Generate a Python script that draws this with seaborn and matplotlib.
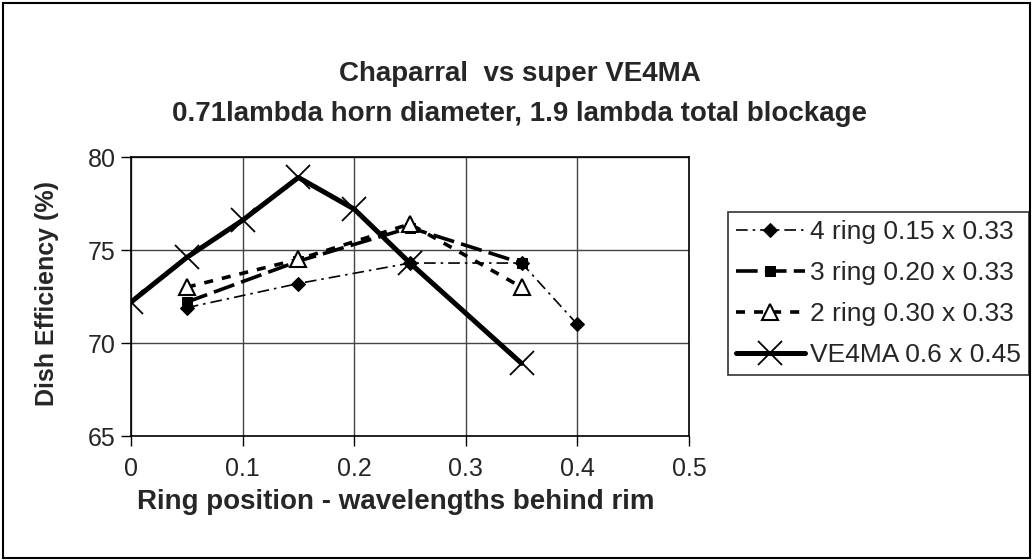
import matplotlib
matplotlib.use('Agg')

import matplotlib.pyplot as plt
import seaborn as sns
from matplotlib.patches import Rectangle

# DATA
ring4_x = [0.05, 0.15, 0.25, 0.35, 0.40]
ring4_y = [71.9, 73.2, 74.3, 74.3, 71.0]

ring3_x = [0.05, 0.15, 0.25, 0.35]
ring3_y = [72.2, 74.4, 76.2, 74.3]

ring2_x = [0.05, 0.15, 0.25, 0.35]
ring2_y = [73.0, 74.5, 76.4, 73.0]

ve4ma_x = [0.0, 0.05, 0.10, 0.15, 0.20, 0.25, 0.35]
ve4ma_y = [72.2, 74.6, 76.6, 78.9, 77.2, 74.3, 68.9]

labels = ["4 ring 0.15 x 0.33", "3 ring 0.20 x 0.33",
          "2 ring 0.30 x 0.33", "VE4MA 0.6 x 0.45"]
x_ticks = [0, 0.1, 0.2, 0.3, 0.4, 0.5]
x_tick_labels = ["0", "0.1", "0.2", "0.3", "0.4", "0.5"]
y_ticks = [65, 70, 75, 80]

sns.set_style("white")
plt.rcParams["font.family"] = ["Liberation Sans", "DejaVu Sans"]

fig = plt.figure(figsize=(10.33, 5.6), dpi=100)
fig.patches.append(Rectangle((0.003, 0.004), 0.994, 0.991, transform=fig.transFigure,
                             fill=False, edgecolor="black", linewidth=1.5))
ax = fig.add_axes([0.1268, 0.2214, 0.5402, 0.4982])

sns.lineplot(x=ring4_x, y=ring4_y, ax=ax, color="black", linewidth=1.2,
             linestyle=(0, (7, 3, 1.5, 3)), marker="D", markersize=7,
             markeredgecolor="black", label=labels[0])
sns.lineplot(x=ring3_x, y=ring3_y, ax=ax, color="black", linewidth=2.6,
             linestyle=(0, (6, 2)), marker="s", markersize=7.5,
             markeredgecolor="black", label=labels[1])
sns.lineplot(x=ring2_x, y=ring2_y, ax=ax, color="black", linewidth=2.6,
             linestyle=(0, (2.5, 2.5)), marker="^", markersize=12,
             markerfacecolor="white", markeredgecolor="black",
             markeredgewidth=1.5, label=labels[2])
sns.lineplot(x=ve4ma_x, y=ve4ma_y, ax=ax, color="black", linewidth=3.6,
             marker="x", markersize=17, markeredgewidth=1.3,
             markeredgecolor="black", label=labels[3])

ax.set_xlim(0, 0.5)
ax.set_ylim(65, 80)
ax.set_xticks(x_ticks)
ax.set_xticklabels(x_tick_labels)
ax.set_yticks(y_ticks)
ax.tick_params(axis="both", labelsize=18, length=7, width=1, color="black",
               direction="out", bottom=True, left=True)
ax.tick_params(axis="x", pad=8)
ax.tick_params(axis="y", pad=4)
ax.grid(True, color="#444444", linewidth=1)
for s in ax.spines.values():
    s.set_color("black")
    s.set_linewidth(1.2)
ax.set_axisbelow(True)

ax.set_xlabel("Ring position - wavelengths behind rim", fontsize=20,
              fontweight="bold")
ax.xaxis.set_label_coords(0.383, 0.127, transform=fig.transFigure)
ax.set_ylabel("Dish Efficiency (%)", fontsize=18, fontweight="bold")
ax.yaxis.set_label_coords(0.057, 0.475, transform=fig.transFigure)

fig.text(0.503, 0.868, "Chaparral  vs super VE4MA", ha="center", va="center",
         fontsize=20, fontweight="bold")
fig.text(0.503, 0.797, "0.71lambda horn diameter, 1.9 lambda total blockage",
         ha="center", va="center", fontsize=20, fontweight="bold")

leg = ax.legend(loc="upper left", bbox_to_anchor=(0.705, 0.621),
                bbox_transform=fig.transFigure, borderaxespad=0,
                fontsize=19, frameon=True, fancybox=False, handlelength=2.6,
                labelspacing=0.64, borderpad=0.3, handletextpad=0.2)
leg.get_frame().set_edgecolor("black")
leg.get_frame().set_linewidth(1.2)

plt.savefig("out.png", dpi=100)
plt.close()
